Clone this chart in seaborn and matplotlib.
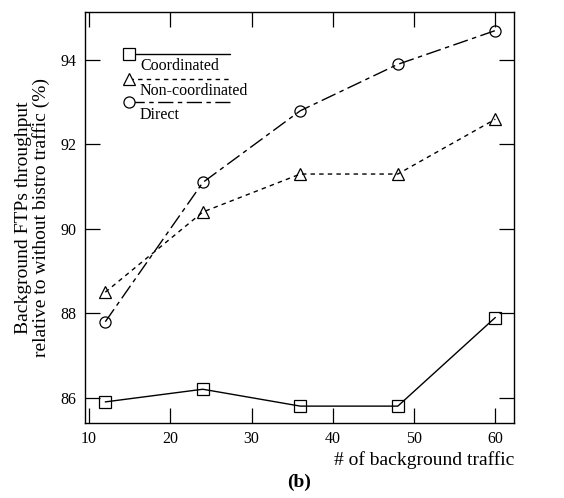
import matplotlib
matplotlib.use("Agg")
import matplotlib.pyplot as plt
import seaborn as sns
import pandas as pd
from matplotlib.lines import Line2D

# Number of background flows
traffic = [12, 24, 36, 48, 60]
# Throughput of background FTPs relative to no bistro traffic (%)
coordinated = [85.9, 86.2, 85.8, 85.8, 87.9]
non_coordinated = [88.5, 90.4, 91.3, 91.3, 92.6]
direct = [87.8, 91.1, 92.8, 93.9, 94.7]

series_names = ["Coordinated", "Non-coordinated", "Direct"]
x_ticks = [10, 20, 30, 40, 50, 60]
y_ticks = [86, 88, 90, 92, 94]

sns.set_theme(style="white")
plt.rcParams["font.family"] = ["Liberation Serif", "DejaVu Serif"]
plt.rcParams["mathtext.fontset"] = "stix"

fig = plt.figure(figsize=(5.64, 4.98), dpi=100)
ax = fig.add_axes([85 / 564, 1 - 423 / 498, 429 / 564, 411 / 498])

styles = {
    "Coordinated": dict(marker="s", ms=8.0, dashes=None),
    "Non-coordinated": dict(marker="^", ms=8.5, dashes=(3.2, 3.0)),
    "Direct": dict(marker="o", ms=8.0, dashes=(11.0, 3.2, 3.2, 3.2)),
}

frames = []
for name, vals in zip(series_names, [coordinated, non_coordinated, direct]):
    frames.append(pd.DataFrame({"traffic": traffic, "value": vals, "series": name}))
df = pd.concat(frames, ignore_index=True)

for name in series_names:
    st = styles[name]
    sub = df[df["series"] == name]
    sns.lineplot(data=sub, x="traffic", y="value", ax=ax, color="black",
                 linewidth=1.0, marker=st["marker"], markersize=st["ms"],
                 markerfacecolor="none", markeredgecolor="black",
                 markeredgewidth=0.9, errorbar=None, legend=False)
    line = ax.lines[-1]
    if st["dashes"] is not None:
        line.set_dashes(st["dashes"])

ax.set_xlim(9.5, 62.3)
ax.set_ylim(85.4, 95.14)
ax.set_xticks(x_ticks)
ax.set_yticks(y_ticks)
ax.tick_params(direction="in", length=11, width=0.9, labelsize=11.5,
               top=True, right=True, bottom=True, left=True, pad=6,
               colors="black")
for s in ax.spines.values():
    s.set_visible(True)
    s.set_color("black")
    s.set_linewidth(1.0)

ax.set_xlabel("")
ax.set_ylabel("Background FTPs throughput\nrelative to without bistro traffic (%)",
              fontsize=14, color="black", labelpad=8, linespacing=1.0)
ax.text(1.0, -0.09, "# of background traffic", transform=ax.transAxes,
        ha="right", va="center", fontsize=14, color="black")
ax.text(0.5, -0.145, "(b)", transform=ax.transAxes, ha="center", va="center",
        fontsize=14, fontweight="bold", color="black")

# Legend: symbol at the start of each sample line, label under it
leg_rows = [(0.898, 0.868), (0.837, 0.809), (0.781, 0.750)]
for name, (ly, ty) in zip(series_names, leg_rows):
    st = styles[name]
    ln = Line2D([0.1026, 0.338], [ly, ly], transform=ax.transAxes, color="black",
                linewidth=1.0)
    if st["dashes"] is not None:
        ln.set_dashes(st["dashes"])
    ax.add_line(ln)
    mk = Line2D([0.1026], [ly], transform=ax.transAxes, marker=st["marker"],
                markersize=st["ms"], markerfacecolor="white",
                markeredgecolor="black", markeredgewidth=0.9, linestyle="none")
    ax.add_line(mk)
    ax.text(0.128, ty, name, transform=ax.transAxes, ha="left", va="center",
            fontsize=11.5, color="black")

fig.savefig("out.png", dpi=100, facecolor="white")
